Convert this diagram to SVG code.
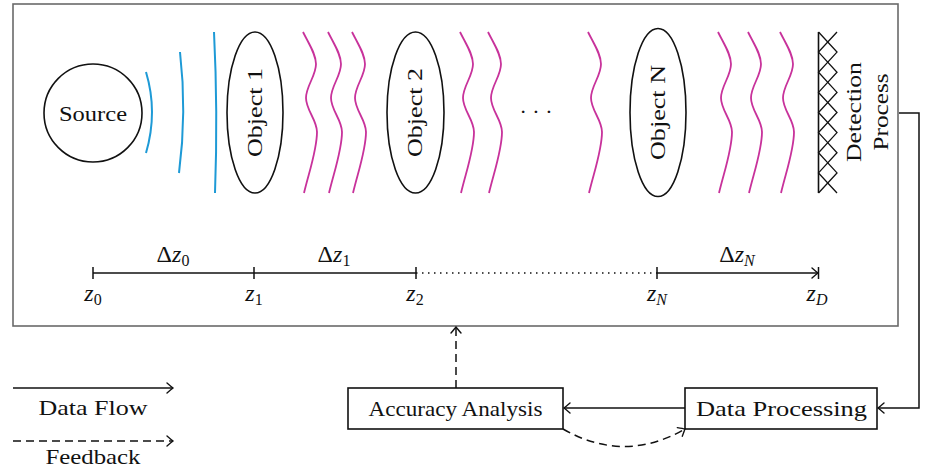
<svg xmlns="http://www.w3.org/2000/svg" width="928" height="470" viewBox="0 0 928 470">
<style>
  text { font-family: "Liberation Serif", "Times New Roman", serif; fill: #111; }
  .lbl { font-size: 22px; text-anchor: middle; dominant-baseline: central; }
  .math { font-size: 24px; text-anchor: middle; }
  .it { font-style: italic; }
  .sub { font-size: 16px; }
  .shape { fill: #fff; stroke: #111; stroke-width: 1.6; }
  .wave { fill: none; stroke: #c8329b; stroke-width: 1.8; }
  .beam { fill: none; stroke: #1e9ad6; stroke-width: 2; }
  .edge { fill: none; stroke: #111; stroke-width: 1.5; }
  .dash { stroke-dasharray: 8 5; }
</style>
<defs>
  <marker id="to" markerUnits="userSpaceOnUse" markerWidth="14" markerHeight="14" viewBox="-10 -7 12 14" refX="0" refY="0" orient="auto">
    <path d="M-6,-5 Q-1.5,-1.2 0,0 Q-1.5,1.2 -6,5" fill="none" stroke="#111" stroke-width="1.4" stroke-linecap="round"/>
  </marker>
  <path id="w" d="M0,0 C6,12 13,22 13,32 C13,44 3,54 3,66 C3,78 14,88 14,100 C14,118 6,140 1,161"/>
</defs>

<rect id="frame" x="13" y="4" width="885" height="322" fill="#fff" stroke="#6a6a6a" stroke-width="1.6"/>

<g id="source">
  <circle class="shape" cx="93" cy="113" r="49"/>
  <text class="lbl" x="93" y="113" textLength="68" lengthAdjust="spacingAndGlyphs">Source</text>
</g>

<g id="beams">
  <path class="beam" d="M146,72 Q158,112 146,153"/>
  <path class="beam" d="M180,52 Q187,112 179,173"/>
  <path class="beam" d="M214,32 Q218,112 215,193"/>
</g>

<g id="object1">
  <ellipse class="shape" cx="255" cy="112.5" rx="28" ry="80.5"/>
  <text class="lbl" transform="translate(254,112.5) rotate(-90)" textLength="89" lengthAdjust="spacingAndGlyphs">Object 1</text>
</g>

<g id="object2">
  <ellipse class="shape" cx="415.5" cy="112.5" rx="28.5" ry="80.5"/>
  <text class="lbl" transform="translate(414.5,112.5) rotate(-90)" textLength="89" lengthAdjust="spacingAndGlyphs">Object 2</text>
</g>

<g id="objectN">
  <ellipse class="shape" cx="658" cy="112.5" rx="28" ry="84"/>
  <text class="lbl" transform="translate(657,112.5) rotate(-90)" textLength="95" lengthAdjust="spacingAndGlyphs">Object N</text>
</g>

<g id="waves" class="wave">
  <use href="#w" x="303" y="32"/>
  <use href="#w" x="328" y="32"/>
  <use href="#w" x="352" y="32"/>
  <use href="#w" x="460" y="32"/>
  <use href="#w" x="488" y="32"/>
  <use href="#w" x="588" y="32"/>
  <use href="#w" x="718" y="32"/>
  <use href="#w" x="748" y="32"/>
  <use href="#w" x="780" y="32"/>
</g>

<text id="dots" x="536" y="119" style="font-size:22px;text-anchor:middle">· · ·</text>

<g id="detection">
  <line x1="818.5" y1="32" x2="818.5" y2="193" stroke="#111" stroke-width="1.6"/>
  <path fill="none" stroke="#111" stroke-width="1.3" d="M818.5,32 L837,52.1 L818.5,72.3 L837,92.4 L818.5,112.5 L837,132.6 L818.5,152.8 L837,172.9 L818.5,193"/>
  <path fill="none" stroke="#111" stroke-width="1.3" d="M837,32 L818.5,52.1 L837,72.3 L818.5,92.4 L837,112.5 L818.5,132.6 L837,152.8 L818.5,172.9 L837,193"/>
  <text class="lbl" transform="translate(853,112) rotate(-90)" textLength="100" lengthAdjust="spacingAndGlyphs">Detection</text>
  <text class="lbl" transform="translate(880,112) rotate(-90)" textLength="77" lengthAdjust="spacingAndGlyphs">Process</text>
</g>

<g id="axis">
  <line class="edge" x1="93" y1="273" x2="416" y2="273"/>
  <line x1="416" y1="273" x2="657" y2="273" stroke="#111" stroke-width="1.4" stroke-dasharray="1.5 4.5"/>
  <line class="edge" x1="657" y1="273" x2="818" y2="273" marker-end="url(#to)"/>
  <g stroke="#111" stroke-width="1.5">
    <line x1="93" y1="267" x2="93" y2="279"/>
    <line x1="254" y1="267" x2="254" y2="279"/>
    <line x1="416" y1="267" x2="416" y2="279"/>
    <line x1="657" y1="267" x2="657" y2="279"/>
    <line x1="818.5" y1="267" x2="818.5" y2="279"/>
  </g>
  <text class="math" x="173" y="262">Δ<tspan class="it">z</tspan><tspan class="sub" dy="4">0</tspan></text>
  <text class="math" x="334" y="262">Δ<tspan class="it">z</tspan><tspan class="sub" dy="4">1</tspan></text>
  <text class="math" x="737" y="262">Δ<tspan class="it">z</tspan><tspan class="sub it" dy="4">N</tspan></text>
  <text class="math" x="93" y="301"><tspan class="it">z</tspan><tspan class="sub" dy="4">0</tspan></text>
  <text class="math" x="254" y="301"><tspan class="it">z</tspan><tspan class="sub" dy="4">1</tspan></text>
  <text class="math" x="415" y="301"><tspan class="it">z</tspan><tspan class="sub" dy="4">2</tspan></text>
  <text class="math" x="657" y="301"><tspan class="it">z</tspan><tspan class="sub it" dy="4">N</tspan></text>
  <text class="math" x="817" y="301"><tspan class="it">z</tspan><tspan class="sub it" dy="4">D</tspan></text>
</g>

<g id="accuracy">
  <rect class="shape" x="348" y="388" width="215" height="41"/>
  <text class="lbl" x="455.5" y="408" textLength="174" lengthAdjust="spacingAndGlyphs">Accuracy Analysis</text>
</g>

<g id="processing">
  <rect class="shape" x="685" y="388" width="192" height="41"/>
  <text class="lbl" x="781.5" y="408" textLength="171" lengthAdjust="spacingAndGlyphs">Data Processing</text>
</g>

<g id="connectors">
  <path class="edge" d="M899,113 H919 V408 H878" marker-end="url(#to)"/>
  <path class="edge" d="M685,408 H564" marker-end="url(#to)"/>
  <path class="edge dash" d="M456,388 V327" marker-end="url(#to)"/>
  <path class="edge dash" d="M563,429 Q624,464 685,429" marker-end="url(#to)"/>
</g>

<g id="legend">
  <line class="edge" x1="13" y1="388" x2="173" y2="388" marker-end="url(#to)"/>
  <text class="lbl" x="93" y="407" textLength="109" lengthAdjust="spacingAndGlyphs">Data Flow</text>
  <line class="edge dash" x1="13" y1="441" x2="173" y2="441" marker-end="url(#to)"/>
  <text class="lbl" x="93" y="456" textLength="95" lengthAdjust="spacingAndGlyphs">Feedback</text>
</g>
</svg>
